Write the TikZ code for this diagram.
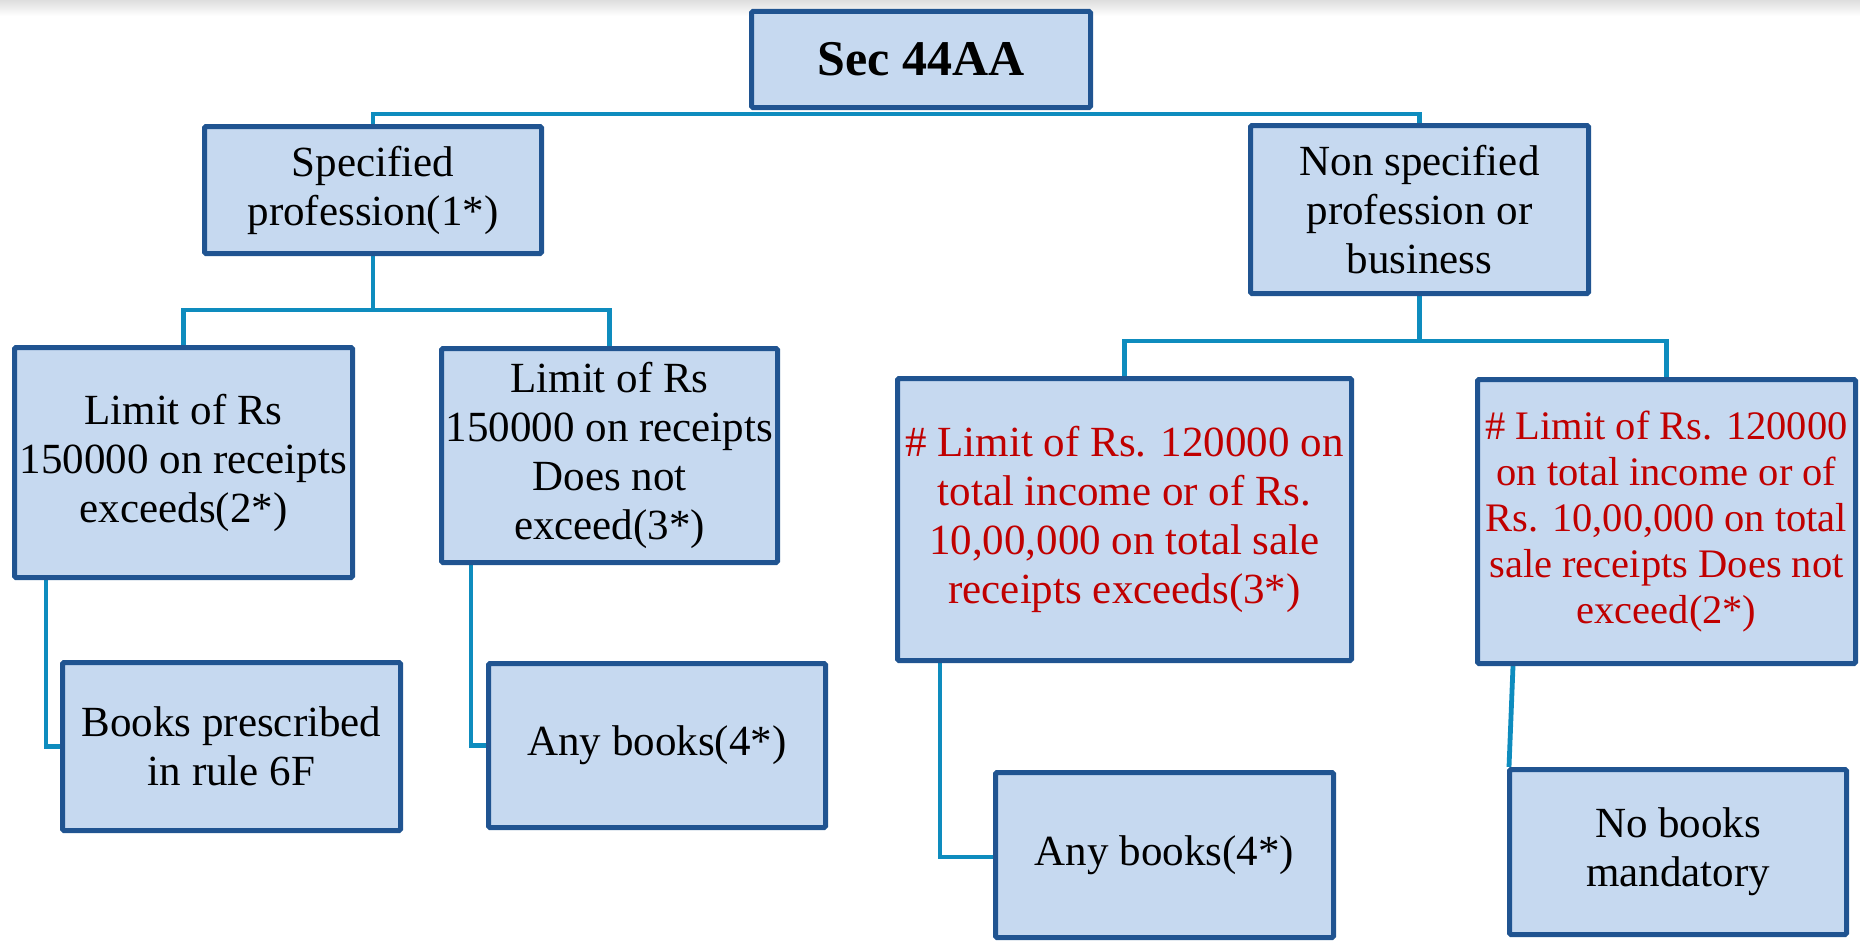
\documentclass[tikz,border=0pt]{standalone}
\usepackage{fontspec}
\setmainfont{Liberation Serif}
\usetikzlibrary{backgrounds}
\definecolor{boxfill}{RGB}{198,217,240}
\definecolor{boxline}{RGB}{32,84,145}
\definecolor{linkcol}{RGB}{14,140,190}
\definecolor{redtxt}{RGB}{192,0,0}
\tikzset{
  box/.style={draw=boxline, fill=boxfill, line width=5pt, rounded corners=1.5pt,
    align=center, inner sep=0pt, text=black, font=\fontsize{43}{49}\selectfont},
  redbox/.style={box, text=redtxt},
  link/.style={draw=linkcol, line width=4.8pt},
}
\begin{document}
\begin{tikzpicture}[x=1pt,y=-1pt]
\useasboundingbox (0,0) rectangle (1860,942);
\fill[top color=black!13, bottom color=white] (0,0) rectangle (1860,16);

\node[box, font=\fontsize{50}{56}\selectfont\bfseries, minimum width=339pt, minimum height=96pt] (sec) at (921,59.5) {Sec 44AA};
\node[box, minimum width=337pt, minimum height=127pt] (spec) at (373,190) {Specified\\profession(1*)};
\node[box, minimum width=338pt, minimum height=168pt] (nonspec) at (1419.5,209.5) {Non specified\\profession or\\business};
\node[box, minimum width=338pt, minimum height=230pt] (lim1) at (183.5,462.5) {Limit of Rs\\150000 on receipts\\exceeds(2*)};
\node[box, minimum width=336pt, minimum height=214pt] (lim2) at (609.5,455.5) {Limit of Rs\\150000 on receipts\\Does not\\exceed(3*)};
\node[redbox, minimum width=454pt, minimum height=282pt] (red1) at (1124.5,519.5) {\# Limit of Rs. 120000 on\\total income or of Rs.\\10,00,000 on total sale\\receipts exceeds(3*)};
\node[redbox, font=\fontsize{40.5}{46}\selectfont, minimum width=378pt, minimum height=284pt] (red2) at (1666.5,521.5) {\# Limit of Rs. 120000\\on total income or of\\Rs. 10,00,000 on total\\sale receipts Does not\\exceed(2*)};
\node[box, minimum width=338pt, minimum height=168pt] (books) at (231.5,746.5) {Books prescribed\\in rule 6F};
\node[box, minimum width=337pt, minimum height=164pt] (any1) at (657,745.5) {Any books(4*)};
\node[box, minimum width=338pt, minimum height=165pt] (any2) at (1164.5,855) {Any books(4*)};
\node[box, minimum width=337pt, minimum height=165pt] (nobooks) at (1678,852) {No books\\mandatory};

\coordinate (j1) at (373,310);
\coordinate (j2) at (1419.5,341);

\begin{scope}[on background layer]
\draw[link] (spec.north) |- ([yshift=-4pt]sec.south) -| (nonspec.north);
\draw[link] (spec.south) -- (j1);
\draw[link] (lim1.north) |- (j1) -| (lim2.north);
\draw[link] (nonspec.south) -- (j2);
\draw[link] (red1.north) |- (j2) -| (red2.north);
\draw[link] ([xshift=34pt]lim1.south west) |- (books.west);
\draw[link] ([xshift=32pt]lim2.south west) |- (any1.west);
\draw[link] ([xshift=45pt]red1.south west) |- ([yshift=-2pt]any2.west);
\draw[link] ([xshift=38pt]red2.south west) -- ([xshift=2pt]nobooks.north west);
\end{scope}
\end{tikzpicture}
\end{document}
